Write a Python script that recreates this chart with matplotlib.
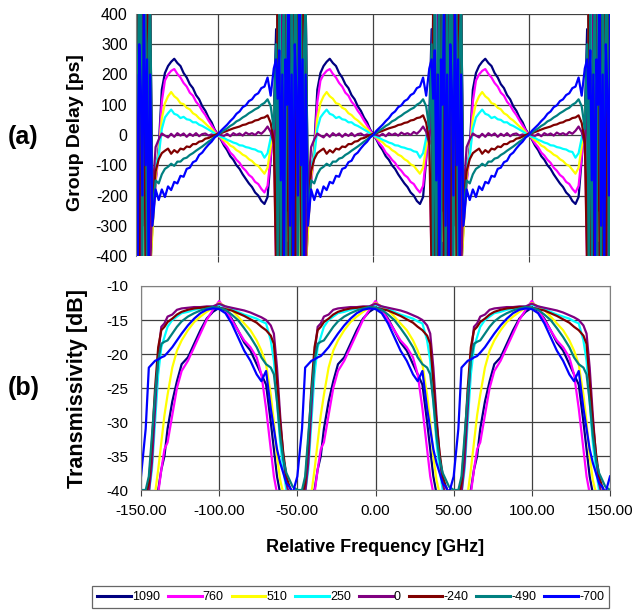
import numpy as np
import matplotlib.pyplot as plt

plt.rcParams['font.family'] = ['Liberation Sans', 'DejaVu Sans']
plt.rcParams['axes.unicode_minus'] = False

# legend labels and Excel-like colours
labels = ['1090', '760', '510', '250', '0', '-240', '-490', '-700']
colors = ['#000080', '#FF00FF', '#FFFF00', '#00FFFF', '#800080', '#800000', '#008080', '#0000FF']

# ---------------- (a) group delay, one period ----------------
# offsets [GHz] from each passband centre (-42 ... 36 in 2 GHz steps)
gd_centers = [-200, -100, 0, 100]
gd_offset = [-42, -40, -38, -36, -34, -32, -30, -28, -26, -24, -22, -20, -18, -16, -14, -12,
             -10, -8, -6, -4, -2, 0, 2, 4, 6, 8, 10, 12, 14, 16, 18, 20, 22, 24, 26, 28,
             30, 32, 34, 36]
gd_wild_offset = [37.5, 38.5, 39.5, 40.5, 41.5, 42.5, 43.5, 44.5, 45.5, 46.5,
                  47.5, 48.5, 49.5, 50.5, 51.5, 52.5, 53.5, 54.5, 55.5, 56.5]

gd_1090 = [-300, -150, -40, 150, 205, 228, 242, 252, 238, 228, 205, 190, 168, 155, 132, 118,
           95, 80, 58, 42, 18, 2, -15, -35, -50, -70, -82, -100, -112, -130, -145, -160,
           -172, -190, -200, -218, -228, -205, -80, 60]
gd_760 = [-300, -160, -60, 110, 180, 200, 212, 218, 202, 190, 172, 160, 140, 130, 110, 98,
          80, 66, 48, 32, 15, 0, -12, -28, -40, -58, -68, -82, -92, -108, -118, -132,
          -140, -155, -162, -178, -190, -168, -70, 40]
gd_510 = [-320, -140, -60, 55, 105, 128, 142, 128, 120, 105, 102, 90, 85, 72, 66, 55,
          48, 38, 28, 20, 8, 0, -8, -18, -24, -35, -40, -50, -56, -65, -70, -80,
          -86, -97, -102, -115, -128, -108, -40, 30]
gd_250 = [-250, -100, -70, 20, 58, 72, 84, 70, 66, 56, 60, 52, 50, 42, 42, 34,
          30, 24, 18, 12, 5, 0, -6, -10, -16, -20, -25, -28, -34, -35, -40, -42,
          -46, -48, -54, -56, -75, -60, -10, 60]
gd_0 = [-200, -40, -15, 5, -2, -8, 4, -6, 6, -2, 5, -6, 4, -3, 6, -4,
        3, 5, -2, 2, -3, 4, 0, -3, 4, -4, 6, 0, 5, -2, 8, 2,
        6, 0, 10, 4, 14, 28, 10, -30]
gd_m240 = [-250, -120, -80, -60, -52, -45, -62, -50, -58, -45, -48, -38, -40, -30, -30, -22,
           -20, -12, -10, -5, 0, 4, 6, 10, 14, 18, 22, 25, 28, 33, 35, 40,
           42, 48, 50, 56, 58, 65, 40, -20]
gd_m490 = [-280, -150, -160, -130, -112, -105, -95, -102, -88, -88, -78, -75, -66, -60, -52, -45,
           -38, -30, -22, -15, -6, 0, 8, 15, 22, 30, 36, 45, 50, 58, 64, 72,
           78, 85, 90, 100, 106, 118, 95, 20]
gd_m700 = [-300, -180, -215, -180, -205, -170, -182, -155, -160, -135, -138, -112, -108, -90, -85, -66,
           -58, -44, -32, -22, -8, 0, 14, 24, 34, 46, 56, 70, 78, 92, 98, 112,
           118, 132, 138, 155, 160, 190, 130, 220]

# stop-band region: the measured delay swings far past +/-400 ps
wild_1090 = [350, -450, 450, -450, 450, -450, 300, -450, 450, -450,
             450, -450, 450, -300, 450, -450, 450, -450, 450, -450]
wild_760 = [-450, 450, -450, 450, -200, 450, -450, 450, 300, 450,
            -450, 450, -450, 450, -450, 450, 200, 450, -450, 450]
wild_510 = [200, -450, 450, -450, 100, -450, 450, -350, 450, -450,
            150, -450, 450, -450, 250, -450, 450, -450, 450, -450]
wild_250 = [-300, 450, -450, 450, 150, 450, -450, 450, -450, 100,
            -450, 450, -100, 450, -450, 450, -450, 450, 120, 450]
wild_0 = [150, -450, 200, -450, 450, -450, 450, -250, 450, -450,
          300, -450, 450, -450, 450, -150, 450, -450, 450, -450]
wild_m240 = [-450, 450, -450, 200, -450, 450, -450, 450, -450, 450,
             -450, 450, -450, 450, -300, 450, -450, 450, -450, 450]
wild_m490 = [300, -450, 450, -400, 250, 450, -450, 450, 450, -450,
             450, -200, 450, 450, -450, 450, 450, -450, 300, 450]
wild_m700 = [250, 120, 280, -150, 200, -450, 250, 100, 450, -300,
             200, -450, 300, 150, -200, 450, -100, 250, -450, 200]

gd_series = [gd_1090, gd_760, gd_510, gd_250, gd_0, gd_m240, gd_m490, gd_m700]
wild_series = [wild_1090, wild_760, wild_510, wild_250, wild_0, wild_m240, wild_m490, wild_m700]

# ---------------- (b) transmissivity, one period ----------------
tr_centers = [-100, 0, 100]
tr_offset = [-50, -47, -45, -43, -41, -39, -37, -35, -33, -30, -27, -24, -20, -16, -12, -8, -4,
             0, 4, 8, 12, 16, 20, 24, 27, 30, 33, 35, 37, 39, 41, 43, 45, 47, 50]

tr_1090 = [-41, -41, -41, -41, -40.5, -40, -37, -35, -31, -27, -24, -21.5, -20.5, -18.5, -16.5, -14.8, -13.8,
           -13.2, -13.6, -14.8, -16.5, -18.3, -19.5, -21.5, -23, -24.5, -30, -34, -38, -40.5, -41, -41, -41, -41, -41]
tr_760 = [-41, -41, -41, -41, -41, -40.5, -37, -34, -33, -29, -25, -22.5, -21, -19, -17, -15, -13.5,
          -12.2, -13.5, -15, -16.5, -18, -19, -20.5, -23, -28, -34, -38, -40.5, -41, -41, -41, -41, -41, -41]
tr_510 = [-41, -41, -41, -41, -40.5, -37, -33, -29, -26, -22, -19.5, -18, -16.5, -15.3, -14.5, -13.8, -13.2,
          -12.5, -13, -13.5, -14.5, -15.5, -16.5, -18, -19.5, -21.5, -26, -30, -35, -38.5, -40.5, -41, -41, -41, -41]
tr_250 = [-41, -41, -40.5, -37, -30, -23, -19, -17.5, -16, -15, -14.5, -14, -13.8, -13.5, -13.3, -13.2, -13,
          -12.8, -13, -13.3, -13.8, -14.2, -14.5, -14.8, -15.2, -15.5, -18, -21, -27, -33, -37, -40, -41, -41, -41]
tr_0 = [-41, -41, -40.5, -36, -28, -20, -16, -15.5, -14.5, -14.2, -13.5, -13.3, -13.2, -13.1, -13.1, -13, -13,
        -12.6, -13, -13.2, -13.4, -13.6, -13.9, -14.3, -14.6, -15, -15.8, -17, -22, -29, -35, -39, -41, -41, -41]
tr_m240 = [-41, -41, -39, -33, -25, -19, -16.5, -16, -15.3, -14.8, -14.2, -13.8, -13.5, -13.3, -13.2, -13.1, -13.1,
           -13.2, -13.4, -13.6, -14, -14.4, -14.9, -15.4, -16, -16.5, -17.3, -18.5, -24, -30, -34.5, -38, -39.5, -40.5, -41]
tr_m490 = [-40, -40, -38, -32, -26, -21, -18.5, -18.2, -18, -17, -16, -15.2, -14.5, -14, -13.6, -13.3, -13.1,
           -13.2, -13.5, -14.2, -15, -16.2, -17.5, -19, -20.5, -21.5, -22, -23, -27, -32, -35.5, -37.5, -38.5, -39.5, -40]
tr_m700 = [-38, -31, -22, -21.5, -21, -20.8, -20.5, -20.3, -19.8, -19, -18, -17, -15.8, -14.8, -14, -13.5, -13.3,
           -13.4, -14, -15.5, -17.5, -19.5, -21, -23, -24, -22.5, -28, -31, -34, -36, -37.5, -39, -39.5, -40.5, -38]

tr_series = [tr_1090, tr_760, tr_510, tr_250, tr_0, tr_m240, tr_m490, tr_m700]

grid_col = '#404040'
fig = plt.figure(figsize=(6.34, 6.10), dpi=100)

# ---- panel (a)
ax1 = fig.add_axes([136 / 634, 1 - 256 / 610, 474 / 634, 242 / 610])
for vals, wild, col, lab in zip(gd_series, wild_series, colors, labels):
    xs, ys = [], []
    for c in gd_centers:
        xs += [c + d for d in gd_offset] + [c + d for d in gd_wild_offset]
        ys += list(vals) + list(wild)
    ax1.plot(xs, ys, color=col, lw=1.6, label=lab)
ax1.set_xlim(-152.6, 152.2)
ax1.set_ylim(-400, 400)
ax1.set_yticks(np.arange(-400, 401, 100))
ax1.set_xticks([-100, 0, 100])
ax1.tick_params(axis='x', length=4, labelbottom=False, color=grid_col)
ax1.tick_params(axis='y', length=0, pad=6, labelsize=11.5)
for yv in np.arange(-400, 401, 100):
    ax1.axhline(yv, xmax=0.985, color=grid_col, lw=0.9, zorder=0)
ax1.grid(axis='x', color=grid_col, lw=0.9, zorder=0)
for s in ['top', 'right', 'bottom']:
    ax1.spines[s].set_visible(False)
ax1.spines['left'].set_color('#808080')

# ---- panel (b)
ax2 = fig.add_axes([141 / 634, 1 - 490 / 610, 469 / 634, 204 / 610])
for vals, col, lab in zip(tr_series, colors, labels):
    xs, ys = [], []
    for c in tr_centers:
        xs += [c + d for d in tr_offset]
        ys += list(vals)
    ax2.plot(xs, ys, color=col, lw=1.6, label=lab)
ax2.set_xlim(-150, 150)
ax2.set_ylim(-40, -10)
ax2.set_xticks(np.arange(-150, 151, 50))
ax2.set_xticklabels(['%.2f' % v for v in np.arange(-150, 151, 50)])
ax2.set_yticks(np.arange(-40, -9, 5))
ax2.tick_params(axis='x', length=4, pad=6, labelsize=11, color=grid_col)
ax2.tick_params(axis='y', length=0, pad=9, labelsize=11)
ax2.grid(color=grid_col, lw=0.9)
ax2.set_axisbelow(True)
for s in ax2.spines.values():
    s.set_color('#808080')

# ---- texts
fig.text(75 / 634, 1 - 133 / 610, 'Group Delay [ps]', rotation=90, ha='center', va='center',
         fontsize=14, fontweight='bold')
fig.text(78 / 634, 1 - 388 / 610, 'Transmissivity [dB]', rotation=90, ha='center', va='center',
         fontsize=15.5, fontweight='bold')
fig.text(23 / 634, 1 - 137 / 610, '(a)', ha='center', va='center', fontsize=18, fontweight='bold')
fig.text(24 / 634, 1 - 388 / 610, '(b)', ha='center', va='center', fontsize=18, fontweight='bold')
fig.text(375 / 634, 1 - 547 / 610, 'Relative Frequency [GHz]', ha='center', va='center',
         fontsize=13, fontweight='bold')

handles, labs = ax2.get_legend_handles_labels()
leg = fig.legend(handles, labs, ncol=8, loc='lower left', mode='expand',
                 bbox_to_anchor=(92 / 634, 2 / 610, 517 / 634, 27 / 610),
                 fontsize=9, handlelength=2.7, handletextpad=0.1, columnspacing=0.3,
                 frameon=True, fancybox=False, borderaxespad=0, borderpad=0.4)
leg.get_frame().set_edgecolor('#404040')
leg.get_frame().set_linewidth(0.9)
for line in leg.get_lines():
    line.set_linewidth(2.2)

fig.savefig('out.png', dpi=100)
